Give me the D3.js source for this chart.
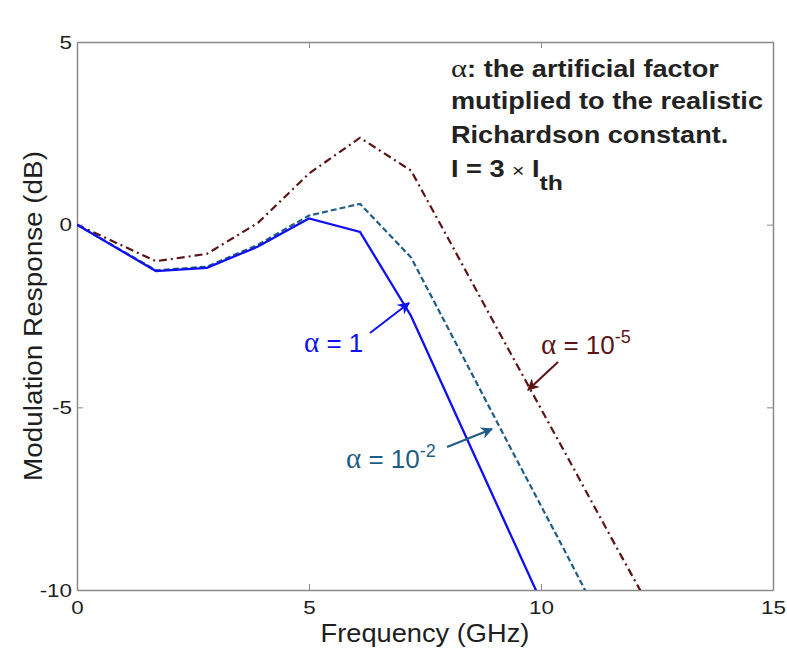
<!DOCTYPE html>
<html>
<head>
<meta charset="utf-8">
<script src="https://cdn.jsdelivr.net/npm/d3@7"></script>
<style>
  body { margin: 0; background: #fff; }
  svg text { font-family: "Liberation Sans", Arial, sans-serif; }
</style>
</head>
<body>
<div id="chart"></div>
<script>
// frequency samples (GHz) and responses (dB)
var freq = [0, 1.7, 2.8, 3.9, 5.0, 6.1, 7.2, 8.3, 9.4, 10.5, 11.6, 12.7]
var alpha_1 = [0, -1.27, -1.18, -0.6, 0.17, -0.2, -2.5, -5.57, -8.64, -11.7, -14.8, -17.9]
var alpha_1e2 = [0, -1.25, -1.15, -0.55, 0.25, 0.57, -0.9, -3.57, -6.25, -8.9, -11.6, -14.3]
var alpha_1e5 = [0, -1.0, -0.8, 0.05, 1.4, 2.38, 1.48, -1.08, -3.65, -6.2, -8.77, -11.3]

var x_ticks = [0, 5, 10, 15]
var y_ticks = [5, 0, -5, -10]

var note_lines = ["the artificial factor", "mutiplied to the realistic", "Richardson constant."]

var width = 787, height = 651
var margin = {left: 77, right: 14, top: 42, bottom: 61}

var svg = d3.select("#chart").append("svg")
    .attr("width", width)
    .attr("height", height)

var x = d3.scaleLinear().domain([0, 15]).range([margin.left, width - margin.right])
var y = d3.scaleLinear().domain([-10, 5]).range([height - margin.bottom, margin.top])

var axis_colour = "#8a8a8a"
var text_colour = "#1e1e1e"

// the source picture is a bit wider than tall, so text is widened a little
function stretch(sel, origin, k) {
  sel.style("transform-box", "fill-box")
     .style("transform-origin", origin)
     .style("transform", "scaleX(" + k + ")")
}

// clip for the curves
svg.append("clipPath").attr("id", "plotclip")
    .append("rect")
    .attr("x", x(0)).attr("y", y(5))
    .attr("width", x(15) - x(0)).attr("height", y(-10) - y(5))

// axes (ticks inward, box all round like matlab)
function style_axis(g) {
  g.select(".domain").attr("stroke", axis_colour).attr("stroke-width", 1.5)
  g.selectAll(".tick line").attr("stroke", axis_colour)
  g.selectAll(".tick text").attr("fill", text_colour).style("font-size", "19px")
}

var fmt = function(d) { return String(d) }

svg.append("g")
    .attr("transform", "translate(0," + y(-10) + ")")
    .call(d3.axisBottom(x).tickValues(x_ticks).tickSize(-6).tickSizeOuter(0).tickPadding(11).tickFormat(fmt))
    .call(style_axis)
    .selectAll(".tick text").call(stretch, "center", 1.18)

svg.append("g")
    .attr("transform", "translate(0," + y(5) + ")")
    .call(d3.axisTop(x).tickValues(x_ticks).tickSize(-6).tickSizeOuter(0).tickFormat(""))
    .call(style_axis)

svg.append("g")
    .attr("transform", "translate(" + x(0) + ",0)")
    .call(d3.axisLeft(y).tickValues(y_ticks).tickSize(-6).tickSizeOuter(0).tickPadding(5).tickFormat(fmt))
    .call(style_axis)
    .selectAll(".tick text").call(stretch, "right", 1.18)

svg.append("g")
    .attr("transform", "translate(" + x(15) + ",0)")
    .call(d3.axisRight(y).tickValues(y_ticks).tickSize(-6).tickSizeOuter(0).tickFormat(""))
    .call(style_axis)

// axis titles
svg.append("text")
    .attr("x", (x(0) + x(15)) / 2)
    .attr("y", 642)
    .attr("text-anchor", "middle")
    .attr("fill", text_colour)
    .style("font-size", "25px")
    .text("Frequency (GHz)")
    .call(stretch, "center", 1.09)

svg.append("text")
    .attr("transform", "translate(42," + y(-2.5) + ") rotate(-90)")
    .attr("text-anchor", "middle")
    .attr("fill", text_colour)
    .attr("textLength", 330)
    .attr("lengthAdjust", "spacingAndGlyphs")
    .style("font-size", "26px")
    .text("Modulation Response (dB)")

// curves
var series = [
  {values: alpha_1e5, colour: "#5c1414", dash: "8,4,2,4", width: 2.2},
  {values: alpha_1e2, colour: "#1f5d86", dash: "6,3", width: 2.2},
  {values: alpha_1, colour: "#1010f0", dash: null, width: 2.3}
]

var line = d3.line()
    .x(function(d) { return x(d[0]) })
    .y(function(d) { return y(d[1]) })

var curves = svg.append("g").attr("clip-path", "url(#plotclip)")

series.forEach(function(s) {
  curves.append("path")
      .datum(d3.zip(freq, s.values))
      .attr("d", line)
      .attr("fill", "none")
      .attr("stroke", s.colour)
      .attr("stroke-width", s.width)
      .attr("stroke-dasharray", s.dash)
})

// arrows
var defs = svg.append("defs")
function marker(id, colour) {
  defs.append("marker")
      .attr("id", id)
      .attr("viewBox", "0 0 10 10")
      .attr("refX", 9).attr("refY", 5)
      .attr("markerWidth", 6).attr("markerHeight", 6)
      .attr("orient", "auto")
      .append("path")
      .attr("d", "M0,0L10,5L0,10L3,5Z")
      .attr("fill", colour)
}
marker("head_blue", "#1010f0")
marker("head_teal", "#1f5d86")
marker("head_brown", "#5c1414")

function arrow(x1, y1, x2, y2, colour, head) {
  svg.append("line")
      .attr("x1", x1).attr("y1", y1)
      .attr("x2", x2).attr("y2", y2)
      .attr("stroke", colour)
      .attr("stroke-width", 2)
      .attr("marker-end", "url(#" + head + ")")
}

function alpha_label(tx, ty, colour, base, sup) {
  var t = svg.append("text")
      .attr("x", tx).attr("y", ty)
      .attr("fill", colour)
      .style("font-size", "26px")
  t.append("tspan").style("font-family", "'Liberation Serif', serif").style("font-size", "29px").text("α")
  t.append("tspan").text(" = " + base)
  if (sup) {
    t.append("tspan").attr("dy", -11).style("font-size", "18px").text(sup)
  }
}

alpha_label(304, 352, "#1010f0", "1", null)
arrow(370, 333, 409, 303, "#1010f0", "head_blue")

alpha_label(346, 468, "#1f5d86", "10", "-2")
arrow(447, 447, 492, 429, "#1f5d86", "head_teal")

alpha_label(541, 354, "#5c1414", "10", "-5")
arrow(558, 362, 528, 390, "#5c1414", "head_brown")

// note in top right corner
var note = svg.append("g").attr("fill", "#222").style("font-weight", "bold").style("font-size", "23px")
var first = note.append("text").attr("x", 451).attr("y", 77)
first.append("tspan").style("font-family", "'Liberation Serif', serif").style("font-weight", "normal").style("font-size", "26px").text("α")
first.append("tspan").text(": " + note_lines[0])
note.append("text").attr("x", 451).attr("y", 109).text(note_lines[1])
note.append("text").attr("x", 451).attr("y", 143).text(note_lines[2])
var last = note.append("text").attr("x", 451).attr("y", 177)
last.append("tspan").text("I = 3 ")
last.append("tspan").style("font-weight", "normal").style("font-size", "18px").text("×")
last.append("tspan").text(" I")
last.append("tspan").attr("dy", 13).style("font-size", "21px").text("th")
note.selectAll("text").call(stretch, "left", 1.18)
</script>
</body>
</html>
